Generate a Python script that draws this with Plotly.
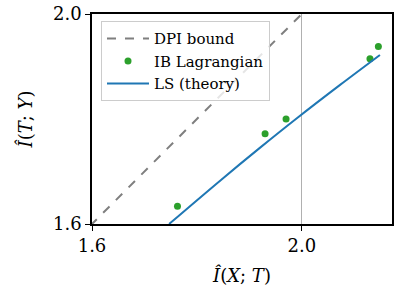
import plotly.graph_objects as go

dpi_x = [1.5, 2.2]
dpi_y = [1.5, 2.2]
ib_x = [1.763, 1.930, 1.970, 2.130, 2.146]
ib_y = [1.634, 1.772, 1.800, 1.915, 1.938]
ls_x = [1.747, 1.846, 1.920, 1.990, 2.073, 2.149]
ls_y = [1.600, 1.684, 1.745, 1.801, 1.865, 1.922]
ticks = [1.6, 2.0]
tick_labels = ["1.6", "2.0"]

FONT = "DejaVu Serif"

fig = go.Figure()
fig.add_trace(go.Scatter(x=dpi_x, y=dpi_y, mode="lines", name="DPI bound",
                         line=dict(color="#7f7f7f", width=2, dash="dash")))
fig.add_trace(go.Scatter(x=ib_x, y=ib_y, mode="markers", name="IB Lagrangian",
                         marker=dict(color="#2ca02c", size=7)))
fig.add_trace(go.Scatter(x=ls_x, y=ls_y, mode="lines", name="LS (theory)",
                         line=dict(color="#1f77b4", width=2, shape="spline", smoothing=1)))

axis_common = dict(
    showline=True, linecolor="black", linewidth=1.5, mirror=True,
    ticks="outside", ticklen=5, tickwidth=1.2, tickcolor="black",
    tickfont=dict(family=FONT, size=18, color="black"),
    zeroline=False, ticklabeloverflow="allow",
)
fig.update_xaxes(range=[1.6, 2.172], tickvals=ticks, ticktext=tick_labels,
                 showgrid=True, gridcolor="#b0b0b0", gridwidth=1,
                 title=dict(text="<i>Î</i>(<i>X</i>; <i>T</i>)", font=dict(family=FONT, size=18, color="black"), standoff=14),
                 **axis_common)
fig.update_yaxes(range=[1.6, 2.0], tickvals=ticks, ticktext=tick_labels,
                 showgrid=False,
                 title=dict(text="<i>Î</i>(<i>T</i>; <i>Y</i>)", font=dict(family=FONT, size=18, color="black"), standoff=16),
                 **axis_common)

fig.update_layout(
    width=398, height=304,
    margin=dict(l=92, r=6, t=14, b=80, autoexpand=False),
    plot_bgcolor="white", paper_bgcolor="white",
    font=dict(family=FONT),
    legend=dict(x=0.03, y=0.965, xanchor="left", yanchor="top",
                bgcolor="rgba(255,255,255,0.8)", bordercolor="#cccccc", borderwidth=1,
                font=dict(family=FONT, size=15, color="black"),
                tracegroupgap=0, itemwidth=42),
    showlegend=True,
)

fig.write_html("out.html", config={"displayModeBar": False},
               post_script="document.body.style.margin='0';")
